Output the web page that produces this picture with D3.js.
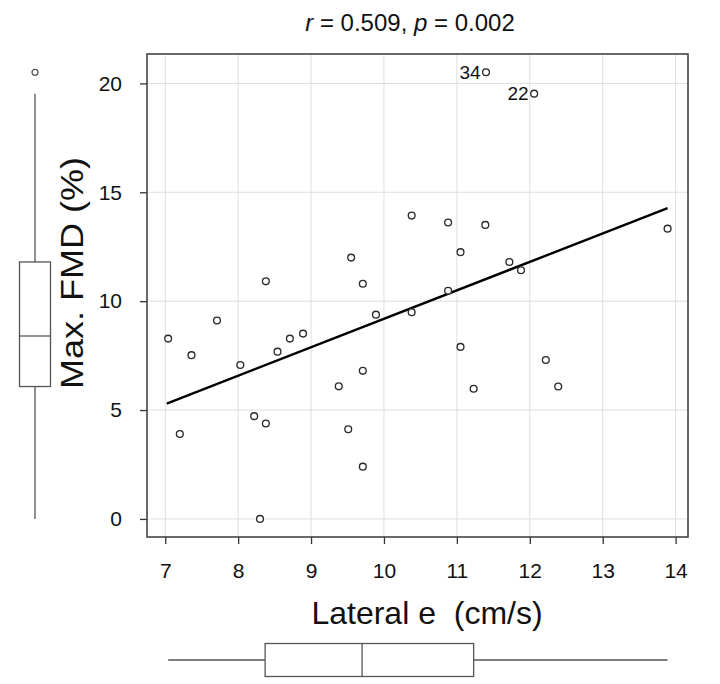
<!DOCTYPE html>
<html>
<head>
<meta charset="utf-8">
<script src="https://cdn.jsdelivr.net/npm/d3@7/dist/d3.min.js"></script>
<style>
  html, body { margin: 0; padding: 0; background: #fff; }
  svg { display: block; font-family: "Liberation Sans", Arial, sans-serif; }
</style>
</head>
<body>
<svg id="chart" width="720" height="684"></svg>
<script>
// ---- data ----
const lateralE = [8.38, 9.55, 9.71, 10.38, 11.40, 12.06, 10.88, 11.39, 11.05, 13.89, 11.72, 11.88,
  10.88, 7.71, 7.04, 7.36, 8.03, 8.54, 8.71, 8.89, 9.89, 10.38, 9.71, 9.38, 8.22, 8.38, 7.20,
  9.51, 9.71, 8.30, 11.05, 11.23, 12.22, 12.39];
const maxFMD = [10.91, 12.00, 10.80, 13.93, 20.51, 19.53, 13.61, 13.50, 12.25, 13.33, 11.80, 11.42,
  10.48, 9.11, 8.28, 7.52, 7.07, 7.68, 8.28, 8.51, 9.38, 9.49, 6.80, 6.09, 4.72, 4.38, 3.90,
  4.12, 2.40, 0.00, 7.90, 5.98, 7.30, 6.08];
const caseLabels = ["", "", "", "", "34", "22", "", "", "", "", "", "", "", "", "", "", "", "",
  "", "", "", "", "", "", "", "", "", "", "", "", "", "", "", ""];
const fitX = [7.02, 13.89];
const fitY = [5.30, 14.27];
const xTicks = [7, 8, 9, 10, 11, 12, 13, 14];
const yTicks = [0, 5, 10, 15, 20];
const yBox = [0.00, 6.08, 8.40, 11.80, 19.53];   // min, q1, median, q3, max whisker
const yBoxOutliers = [20.51];
const xBox = [7.04, 8.37, 9.70, 11.23, 13.89];
const titleParts = [["r", true], [" = 0.509, ", false], ["p", true], [" = 0.002", false]];
const xTitle = "Lateral e\u00a0 (cm/s)";
const yTitle = "Max. FMD (%)";

// ---- layout ----
const svg = d3.select("#chart");
const plot = { left: 147, right: 688, top: 54, bottom: 537 };
const x = d3.scaleLinear().domain([6.75, 14.17]).range([plot.left, plot.right]);
const y = d3.scaleLinear().domain([-0.83, 21.35]).range([plot.bottom, plot.top]);

// grid
const grid = svg.append("g");
grid.selectAll("line.gx").data(xTicks).join("line")
  .attr("x1", d => x(d)).attr("x2", d => x(d))
  .attr("y1", plot.top).attr("y2", plot.bottom)
  .attr("stroke", "#dedede").attr("stroke-width", 1);
grid.selectAll("line.gy").data(yTicks).join("line")
  .attr("y1", d => y(d)).attr("y2", d => y(d))
  .attr("x1", plot.left).attr("x2", plot.right)
  .attr("stroke", "#dedede").attr("stroke-width", 1);

// axes
const xAxis = d3.axisBottom(x).tickValues(xTicks).tickSize(7).tickPadding(19).tickFormat(d3.format("d"));
const yAxis = d3.axisLeft(y).tickValues(yTicks).tickSize(7).tickPadding(18).tickFormat(d3.format("d"));
const gx = svg.append("g").attr("transform", `translate(0,${plot.bottom})`).call(xAxis);
const gy = svg.append("g").attr("transform", `translate(${plot.left},0)`).call(yAxis);
[gx, gy].forEach(g => {
  g.select(".domain").remove();
  g.selectAll(".tick line").attr("stroke", "#333").attr("stroke-width", 1.3);
  g.selectAll(".tick text").attr("fill", "#111").style("font-size", "21px")
    .style("font-family", "'Liberation Sans', Arial, sans-serif");
});

// frame
svg.append("rect")
  .attr("x", plot.left).attr("y", plot.top)
  .attr("width", plot.right - plot.left).attr("height", plot.bottom - plot.top)
  .attr("fill", "none").attr("stroke", "#444").attr("stroke-width", 1.6);

// regression line
svg.append("line")
  .attr("x1", x(fitX[0])).attr("y1", y(fitY[0]))
  .attr("x2", x(fitX[1])).attr("y2", y(fitY[1]))
  .attr("stroke", "#000").attr("stroke-width", 2.4);

// points
const pts = lateralE.map((v, i) => ({ x: v, y: maxFMD[i], label: caseLabels[i] }));
svg.append("g").selectAll("circle").data(pts).join("circle")
  .attr("cx", d => x(d.x)).attr("cy", d => y(d.y)).attr("r", 3.4)
  .attr("fill", "#fff").attr("stroke", "#2a2a2a").attr("stroke-width", 1.35);
svg.append("g").selectAll("text").data(pts.filter(d => d.label)).join("text")
  .attr("x", d => x(d.x) - 5.5).attr("y", d => y(d.y) + 6.5)
  .attr("text-anchor", "end").attr("fill", "#111").style("font-size", "19px")
  .text(d => d.label);

// title
const title = svg.append("text").attr("x", 410).attr("y", 31)
  .attr("text-anchor", "middle").attr("fill", "#111").style("font-size", "24px");
titleParts.forEach(([t, it]) => title.append("tspan").style("font-style", it ? "italic" : "normal").text(t));

// axis titles
svg.append("text").attr("x", 427).attr("y", 624)
  .attr("text-anchor", "middle").attr("fill", "#111").style("font-size", "32px")
  .text(xTitle);
svg.append("text").attr("transform", "translate(83,273) rotate(-90)")
  .attr("text-anchor", "middle").attr("fill", "#111").style("font-size", "32px")
  .attr("textLength", 232).attr("lengthAdjust", "spacingAndGlyphs")
  .text(yTitle);

// left (vertical) boxplot
const bpStroke = "#555";
const vb = svg.append("g");
const vcx = 35, vhw = 15.5;
vb.append("line").attr("x1", vcx).attr("x2", vcx).attr("y1", y(yBox[0])).attr("y2", y(yBox[1]))
  .attr("stroke", bpStroke).attr("stroke-width", 1.3);
vb.append("line").attr("x1", vcx).attr("x2", vcx).attr("y1", y(yBox[3])).attr("y2", y(yBox[4]))
  .attr("stroke", bpStroke).attr("stroke-width", 1.3);
vb.append("rect").attr("x", vcx - vhw).attr("width", 2 * vhw)
  .attr("y", y(yBox[3])).attr("height", y(yBox[1]) - y(yBox[3]))
  .attr("fill", "#fff").attr("stroke", bpStroke).attr("stroke-width", 1.3);
vb.append("line").attr("x1", vcx - vhw).attr("x2", vcx + vhw).attr("y1", y(yBox[2])).attr("y2", y(yBox[2]))
  .attr("stroke", bpStroke).attr("stroke-width", 1.3);
vb.selectAll("circle").data(yBoxOutliers).join("circle")
  .attr("cx", vcx).attr("cy", d => y(d)).attr("r", 3)
  .attr("fill", "#fff").attr("stroke", bpStroke).attr("stroke-width", 1.2);

// bottom (horizontal) boxplot
const hb = svg.append("g");
const hcy = 660, hhh = 16.5;
hb.append("line").attr("y1", hcy).attr("y2", hcy).attr("x1", x(xBox[0])).attr("x2", x(xBox[1]))
  .attr("stroke", bpStroke).attr("stroke-width", 1.3);
hb.append("line").attr("y1", hcy).attr("y2", hcy).attr("x1", x(xBox[3])).attr("x2", x(xBox[4]))
  .attr("stroke", bpStroke).attr("stroke-width", 1.3);
hb.append("rect").attr("y", hcy - hhh).attr("height", 2 * hhh)
  .attr("x", x(xBox[1])).attr("width", x(xBox[3]) - x(xBox[1]))
  .attr("fill", "#fff").attr("stroke", bpStroke).attr("stroke-width", 1.3);
hb.append("line").attr("y1", hcy - hhh).attr("y2", hcy + hhh).attr("x1", x(xBox[2])).attr("x2", x(xBox[2]))
  .attr("stroke", bpStroke).attr("stroke-width", 1.3);
</script>
</body>
</html>
